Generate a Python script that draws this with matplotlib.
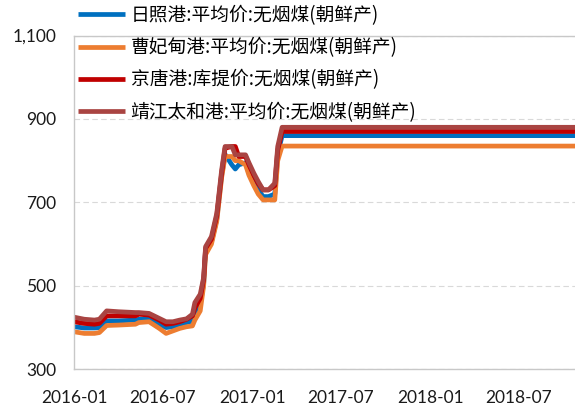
import matplotlib
matplotlib.use("Agg")
import matplotlib.pyplot as plt
import matplotlib.dates as mdates
import matplotlib.ticker as ticker
import pandas as pd

plt.rcParams["font.family"] = ["Lato", "Noto Sans CJK SC", "DejaVu Sans"]

# weekly-ish observation dates
dates = [
    "2016-01-01", "2016-01-22", "2016-02-12", "2016-02-22", "2016-03-08",
    "2016-04-01", "2016-05-06", "2016-05-13", "2016-06-03", "2016-06-24",
    "2016-07-08", "2016-07-22", "2016-08-05", "2016-08-19", "2016-08-31",
    "2016-09-05", "2016-09-16", "2016-09-23", "2016-09-27", "2016-10-09",
    "2016-10-20", "2016-10-30", "2016-11-06", "2016-11-20", "2016-11-27",
    "2016-12-04", "2016-12-18", "2016-12-25", "2017-01-04", "2017-01-13",
    "2017-01-23", "2017-02-03", "2017-02-16", "2017-02-22", "2017-03-03",
    "2018-10-31",
]

rizhao = [
    402, 399, 399, 400, 416, 416, 418, 420, 420, 408,
    400, 402, 408, 412, 416, 430, 455, 505, 585, 605,
    660, 765, 815, 790, 780, 790, 795, 770, 750, 730,
    714, 714, 720, 815, 860, 860,
]
caofeidian = [
    390, 386, 386, 388, 405, 406, 408, 412, 414, 398,
    386, 392, 398, 402, 404, 418, 440, 500, 575, 600,
    655, 760, 810, 810, 800, 800, 790, 765, 740, 720,
    706, 706, 706, 800, 835, 835,
]
jingtang = [
    414, 410, 408, 410, 428, 428, 428, 432, 430, 418,
    408, 410, 414, 420, 428, 447, 470, 515, 590, 612,
    668, 770, 830, 834, 834, 810, 810, 790, 765, 745,
    730, 730, 740, 825, 870, 870,
]
jingjiang = [
    425, 420, 418, 420, 440, 438, 436, 436, 434, 422,
    414, 414, 418, 421, 432, 460, 480, 520, 594, 618,
    674, 778, 834, 834, 814, 814, 814, 795, 770, 750,
    730, 730, 746, 834, 880, 880,
]

labels = [
    "日照港:平均价:无烟煤(朝鲜产)",
    "曹妃甸港:平均价:无烟煤(朝鲜产)",
    "京唐港:库提价:无烟煤(朝鲜产)",
    "靖江太和港:平均价:无烟煤(朝鲜产)",
]
colors = ["#0070C0", "#ED7D31", "#C00000", "#A94442"]
yticks = [300, 500, 700, 900, 1100]

x = pd.to_datetime(dates)

fig = plt.figure(figsize=(5.75, 4.07), dpi=100)
ax = fig.add_axes([74 / 575, 1 - 369.3 / 407, 1 - 74 / 575, (369.3 - 35.5) / 407])

lines = []
for y, c, lab in zip([rizhao, caofeidian, jingtang, jingjiang], colors, labels):
    (ln,) = ax.plot(x, y, color=c, lw=3.4, label=lab, solid_joinstyle="round", solid_capstyle="butt")
    lines.append(ln)

ax.set_ylim(300, 1100)
ax.set_xlim(pd.Timestamp("2016-01-01"), pd.Timestamp("2018-10-25"))
ax.set_yticks(yticks)
ax.yaxis.set_major_formatter(ticker.StrMethodFormatter("{x:,.0f}"))
ax.xaxis.set_major_locator(mdates.MonthLocator(bymonth=[1, 7]))
ax.xaxis.set_major_formatter(mdates.DateFormatter("%Y-%m"))

ax.grid(axis="y", color="#D9D9D9", linestyle=(0, (5, 3)), lw=0.8)
ax.set_axisbelow(True)
for side in ["left", "bottom", "top"]:
    ax.spines[side].set_color("#C8C8C8")
    ax.spines[side].set_linewidth(1.0)
ax.spines["right"].set_visible(False)
ax.tick_params(axis="both", length=0, labelsize=12.5, colors="#1a1a1a")
ax.tick_params(axis="y", pad=12.5)
ax.tick_params(axis="x", pad=15)

leg = fig.legend(
    handles=lines,
    loc="upper left",
    bbox_to_anchor=(78 / 575, 1 - 5 / 407),
    bbox_transform=fig.transFigure,
    frameon=False,
    prop={"family": ["Noto Sans CJK SC", "DejaVu Sans"], "size": 13.5},
    handlelength=2.5,
    handletextpad=0.3,
    labelspacing=0.6,
    borderpad=0,
    borderaxespad=0,
)
for h in leg.legend_handles:
    h.set_linewidth(3.4)

fig.savefig("out.png", dpi=100)
